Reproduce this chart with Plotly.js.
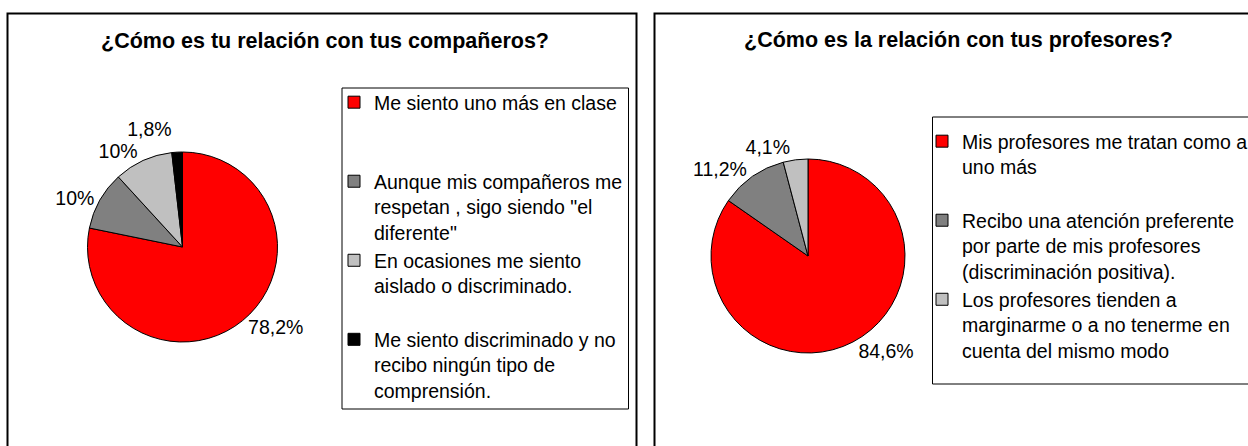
<!DOCTYPE html>
<html>
<head>
<meta charset="utf-8">
<script src="https://cdn.plot.ly/plotly-3.0.1.min.js"></script>
<style>html,body{margin:0;padding:0;background:#fff;}#chart{width:1248px;height:446px;}
/* the reference chart has no leader lines for the outside labels */
#chart path.textline{display:none;}
</style>
</head>
<body>
<div id="chart"></div>
<script>
// ---- data ----
const leftTitle = "¿Cómo es tu relación con tus compañeros?";
const leftLabels = [
  "Me siento uno más en clase<br>\u00a0<br>\u00a0",
  "Aunque mis compañeros me<br>respetan , sigo siendo \"el<br>diferente\"",
  "En ocasiones me siento<br>aislado o discriminado.<br>\u00a0",
  "Me siento discriminado y no<br>recibo ningún tipo de<br>comprensión."
];
const leftValues = [78.2, 10, 10, 1.8];
const leftText = ["78,2%", "10%", "10%", "1,8%"];
const leftColors = ["#FF0000", "#808080", "#C0C0C0", "#000000"];

const rightTitle = "¿Cómo es la relación con tus profesores?";
const rightLabels = [
  "Mis profesores me tratan como a<br>uno más<br>\u00a0",
  "Recibo una atención preferente<br>por parte de mis profesores<br>(discriminación positiva).",
  "Los profesores tienden a<br>marginarme o a no tenerme en<br>cuenta del mismo modo"
];
const rightValues = [84.6, 11.2, 4.1];
const rightText = ["84,6%", "11,2%", "4,1%"];
const rightColors = ["#FF0000", "#808080", "#C0C0C0"];

// ---- layout helpers ----
const W = 1248, H = 446;
const px = v => v / W;
const py = v => 1 - v / H;
const FONT = "Arial, 'Liberation Sans', sans-serif";

function pieDomain(cx, cy, r) {
  return {x: [px(cx - r), px(cx + r)], y: [py(cy + r), py(cy - r)]};
}

const traces = [
  {
    type: "pie", labels: leftLabels, values: leftValues, text: leftText,
    textinfo: "text", textposition: "outside", sort: false, direction: "clockwise", rotation: 0,
    marker: {colors: leftColors, line: {color: "#000", width: 1}},
    textfont: {family: FONT, size: 19.5, color: "#000"},
    domain: pieDomain(182.5, 247, 95), legend: "legend", hoverinfo: "label+text"
  },
  {
    type: "pie", labels: rightLabels, values: rightValues, text: rightText,
    textinfo: "text", textposition: "outside", sort: false, direction: "clockwise", rotation: 0,
    marker: {colors: rightColors, line: {color: "#000", width: 1}},
    textfont: {family: FONT, size: 19.5, color: "#000"},
    domain: pieDomain(808, 256, 97), legend: "legend2", hoverinfo: "label+text"
  }
];

const layout = {
  width: W, height: H,
  margin: {l: 0, r: 0, t: 0, b: 0, autoexpand: false},
  paper_bgcolor: "#fff",
  font: {family: FONT, color: "#000"},
  showlegend: true,
  legend: {x: px(334), y: py(83), xanchor: "left", yanchor: "top", valign: "top",
           bgcolor: "rgba(0,0,0,0)", borderwidth: 0, font: {family: FONT, size: 19.5, color: "#000"}},
  legend2: {x: px(922), y: py(122), xanchor: "left", yanchor: "top", valign: "top",
            bgcolor: "rgba(0,0,0,0)", borderwidth: 0, font: {family: FONT, size: 19.5, color: "#000"}},
  annotations: [
    {text: "<b>" + leftTitle + "</b>", x: px(325), y: py(41), xref: "paper", yref: "paper",
     xanchor: "center", yanchor: "middle",
     showarrow: false, font: {family: FONT, size: 21.5, color: "#000"}},
    {text: "<b>" + rightTitle + "</b>", x: px(958), y: py(40), xref: "paper", yref: "paper",
     xanchor: "center", yanchor: "middle",
     showarrow: false, font: {family: FONT, size: 21.5, color: "#000"}}
  ],
  shapes: [
    {type: "rect", xref: "paper", yref: "paper", x0: px(7.5), x1: px(636.5), y0: -0.1, y1: py(13.5),
     line: {color: "#000", width: 2}, fillcolor: "rgba(0,0,0,0)", layer: "below"},
    {type: "rect", xref: "paper", yref: "paper", x0: px(654.5), x1: 1.1, y0: -0.1, y1: py(13.5),
     line: {color: "#000", width: 2}, fillcolor: "rgba(0,0,0,0)", layer: "below"},
    {type: "rect", xref: "paper", yref: "paper", x0: px(342), x1: px(628.5), y0: py(409), y1: py(88),
     line: {color: "#000", width: 1}, fillcolor: "rgba(0,0,0,0)", layer: "below"},
    {type: "rect", xref: "paper", yref: "paper", x0: px(932.5), x1: 1.1, y0: py(384), y1: py(117),
     line: {color: "#000", width: 1}, fillcolor: "rgba(0,0,0,0)", layer: "below"}
  ]
};

Plotly.newPlot("chart", traces, layout, {displayModeBar: false, responsive: false});
</script>
</body>
</html>
